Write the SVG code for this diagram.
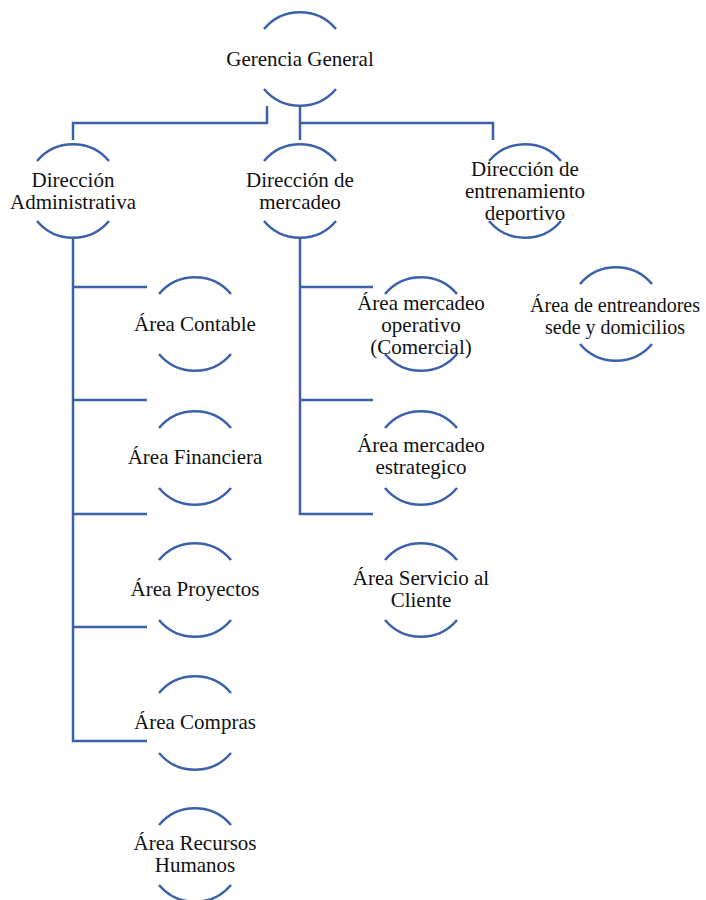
<svg xmlns="http://www.w3.org/2000/svg" xmlns:xlink="http://www.w3.org/1999/xlink" width="706" height="900" viewBox="0 0 706 900">
  <style>
    .rim { fill: none; stroke: #3B61A9; stroke-width: 2.5; }
    .wire { fill: none; stroke: #3B61A9; stroke-width: 2.5; stroke-linejoin: miter; stroke-linecap: butt; }
    .lbl { font-family: "Liberation Serif", "Times New Roman", serif; font-size: 21px; fill: #111; text-anchor: middle; }
  </style>
  <defs>
    <!-- open circle: only the top and bottom arcs, centred on 0,0 -->
    <path id="ring" class="rim" d="M-36 -30 A47 47 0 0 1 36 -30 M-36 30 A47 47 0 0 0 36 30"/>
  </defs>
  <rect width="706" height="900" fill="#fff"/>

  <g id="connectors">
    <path class="wire" d="M267 106 V123 H73 V140"/>
    <path class="wire" d="M300 106 V140"/>
    <path class="wire" d="M300 123 H493 V140"/>
    <path class="wire" d="M73 238 V741 H147"/>
    <path class="wire" d="M73 287 H147 M73 400 H147 M73 514 H147 M73 627 H147"/>
    <path class="wire" d="M300 238 V514 H373"/>
    <path class="wire" d="M300 287 H373 M300 400 H373"/>
  </g>

  <g id="gerencia-general">
    <use xlink:href="#ring" href="#ring" transform="translate(300 59)"/>
    <text class="lbl" x="300" y="66">Gerencia General</text>
  </g>

  <g id="direccion-administrativa">
    <use xlink:href="#ring" href="#ring" transform="translate(73 191)"/>
    <text class="lbl" x="73" y="187">Dirección</text>
    <text class="lbl" x="73" y="209">Administrativa</text>
  </g>

  <g id="direccion-mercadeo">
    <use xlink:href="#ring" href="#ring" transform="translate(300 191)"/>
    <text class="lbl" x="300" y="187">Dirección de</text>
    <text class="lbl" x="300" y="209">mercadeo</text>
  </g>

  <g id="direccion-entrenamiento">
    <use xlink:href="#ring" href="#ring" transform="translate(525 191)"/>
    <text class="lbl" x="525" y="176">Dirección de</text>
    <text class="lbl" x="525" y="198">entrenamiento</text>
    <text class="lbl" x="525" y="220">deportivo</text>
  </g>

  <g id="area-contable">
    <use xlink:href="#ring" href="#ring" transform="translate(195 324)"/>
    <text class="lbl" x="195" y="331">Área Contable</text>
  </g>

  <g id="area-financiera">
    <use xlink:href="#ring" href="#ring" transform="translate(195 458)"/>
    <text class="lbl" x="195" y="464">Área Financiera</text>
  </g>

  <g id="area-proyectos">
    <use xlink:href="#ring" href="#ring" transform="translate(195 590)"/>
    <text class="lbl" x="195" y="596">Área Proyectos</text>
  </g>

  <g id="area-compras">
    <use xlink:href="#ring" href="#ring" transform="translate(195 723)"/>
    <text class="lbl" x="195" y="729">Área Compras</text>
  </g>

  <g id="area-recursos-humanos">
    <use xlink:href="#ring" href="#ring" transform="translate(195 855)"/>
    <text class="lbl" x="195" y="850">Área Recursos</text>
    <text class="lbl" x="195" y="872">Humanos</text>
  </g>

  <g id="area-mercadeo-operativo">
    <use xlink:href="#ring" href="#ring" transform="translate(421 324)"/>
    <text class="lbl" x="421" y="310">Área mercadeo</text>
    <text class="lbl" x="421" y="332">operativo</text>
    <text class="lbl" x="421" y="354">(Comercial)</text>
  </g>

  <g id="area-mercadeo-estrategico">
    <use xlink:href="#ring" href="#ring" transform="translate(421 458)"/>
    <text class="lbl" x="421" y="452">Área mercadeo</text>
    <text class="lbl" x="421" y="474">estrategico</text>
  </g>

  <g id="area-servicio-cliente">
    <use xlink:href="#ring" href="#ring" transform="translate(421 590)"/>
    <text class="lbl" x="421" y="585">Área Servicio al</text>
    <text class="lbl" x="421" y="607">Cliente</text>
  </g>

  <g id="area-entrenadores">
    <use xlink:href="#ring" href="#ring" transform="translate(616 314)"/>
    <text class="lbl" x="615" y="312" style="font-size:20px">Área de entreandores</text>
    <text class="lbl" x="615" y="334" style="font-size:20px">sede y domicilios</text>
  </g>
</svg>
